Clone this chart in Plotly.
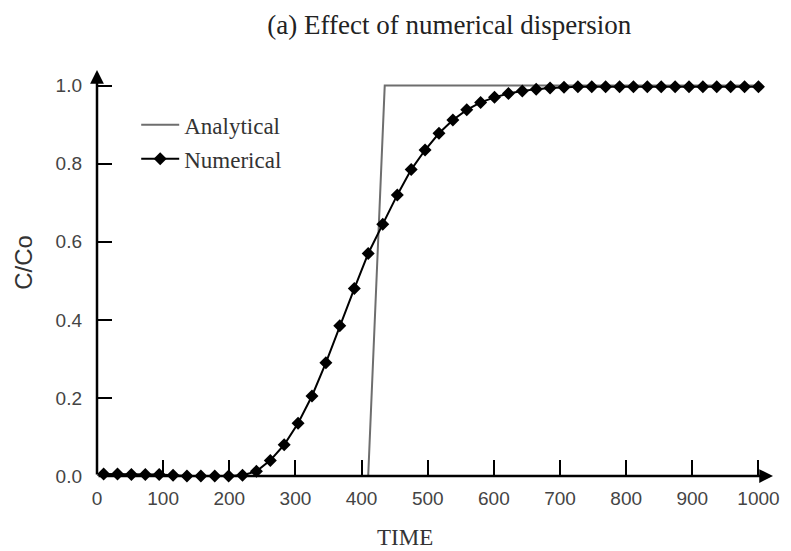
import plotly.graph_objects as go

# Data
analytical_t = [0, 410, 435, 1000]
analytical_c = [0.0, 0.0, 1.0, 1.0]

numerical_t = [10, 31, 52, 73, 94, 115, 136, 157, 178, 199, 220, 241, 262, 283, 304, 325,
               346, 367, 389, 410, 432, 454, 475, 496, 517, 538, 559, 580, 601, 622, 643, 664,
               685, 706, 727, 748, 769, 790, 811, 832, 853, 874, 895, 916, 937, 958, 979, 1000]
numerical_c = [0.005, 0.005, 0.004, 0.004, 0.004, 0.002, 0.0, 0.0, 0.0, 0.0, 0.002, 0.012,
               0.04, 0.08, 0.135, 0.205, 0.29, 0.385, 0.48, 0.57, 0.645, 0.72, 0.785, 0.835,
               0.878, 0.912, 0.938, 0.957, 0.97, 0.98, 0.986, 0.991, 0.994, 0.996, 0.997, 0.997,
               0.997, 0.997, 0.997, 0.997, 0.997, 0.997, 0.997, 0.997, 0.997, 0.997, 0.997, 0.997]

x_ticks = [0, 100, 200, 300, 400, 500, 600, 700, 800, 900, 1000]
y_ticks = [0.0, 0.2, 0.4, 0.6, 0.8, 1.0]
y_tick_labels = ["0.0", "0.2", "0.4", "0.6", "0.8", "1.0"]

fig = go.Figure()
fig.add_trace(go.Scatter(x=analytical_t, y=analytical_c, mode="lines", name="Analytical",
                         line=dict(color="#6e6e6e", width=2), legendgroup="a", cliponaxis=False))
fig.add_trace(go.Scatter(x=numerical_t, y=numerical_c, mode="lines+markers", name="Numerical",
                         line=dict(color="black", width=2), cliponaxis=False,
                         marker=dict(symbol="diamond", size=10, color="black"), legendgroup="n"))

XMAX = 1022
YMAX = 1.04
# axis arrows
fig.add_annotation(x=XMAX, y=0, ax=0, ay=0, xref="x", yref="y", axref="x", ayref="y",
                   showarrow=True, arrowhead=2, arrowsize=1.1, arrowwidth=2.5, arrowcolor="black", text="")
fig.add_annotation(x=0, y=YMAX, ax=0, ay=0, xref="x", yref="y", axref="x", ayref="y",
                   showarrow=True, arrowhead=2, arrowsize=1.1, arrowwidth=2.5, arrowcolor="black", text="")
# axis titles
fig.add_annotation(x=0.455, y=-0.152, xref="paper", yref="paper", xanchor="center", yanchor="middle",
                   text="TIME", showarrow=False,
                   font=dict(family="Liberation Serif", size=23, color="#333"))
fig.add_annotation(x=-0.109, y=0.526, xref="paper", yref="paper", xanchor="center", yanchor="middle",
                   text="C/Co", showarrow=False, textangle=-90,
                   font=dict(family="Liberation Sans", size=24, color="#333"))

fig.update_layout(
    width=791, height=551,
    margin=dict(l=97, r=12, t=70, b=75),
    paper_bgcolor="white", plot_bgcolor="white",
    title=dict(text="(a) Effect of numerical dispersion", x=0.568, xanchor="center", y=0.955, yanchor="middle",
               font=dict(family="Liberation Serif", size=27, color="#222")),
    showlegend=True,
    legend=dict(x=0.058, y=0.918, xanchor="left", yanchor="top", bgcolor="rgba(0,0,0,0)",
                font=dict(family="Liberation Serif", size=23, color="#333"),
                tracegroupgap=1, traceorder="grouped", itemwidth=38),
    xaxis=dict(range=[0, XMAX], tickvals=x_ticks, ticks="inside", ticklen=16, tickwidth=1.5,
               tickcolor="black", showgrid=False, zeroline=False, showline=False,
               ticklabelstandoff=9,
               tickfont=dict(family="Liberation Sans", size=19, color="#444")),
    yaxis=dict(range=[0, YMAX], tickvals=y_ticks, ticktext=y_tick_labels, ticks="inside", ticklen=15,
               tickwidth=1.5, tickcolor="black", showgrid=False, zeroline=False, showline=False,
               ticklabelstandoff=14,
               tickfont=dict(family="Liberation Sans", size=19, color="#444")),
)

fig.write_html("out.html")
